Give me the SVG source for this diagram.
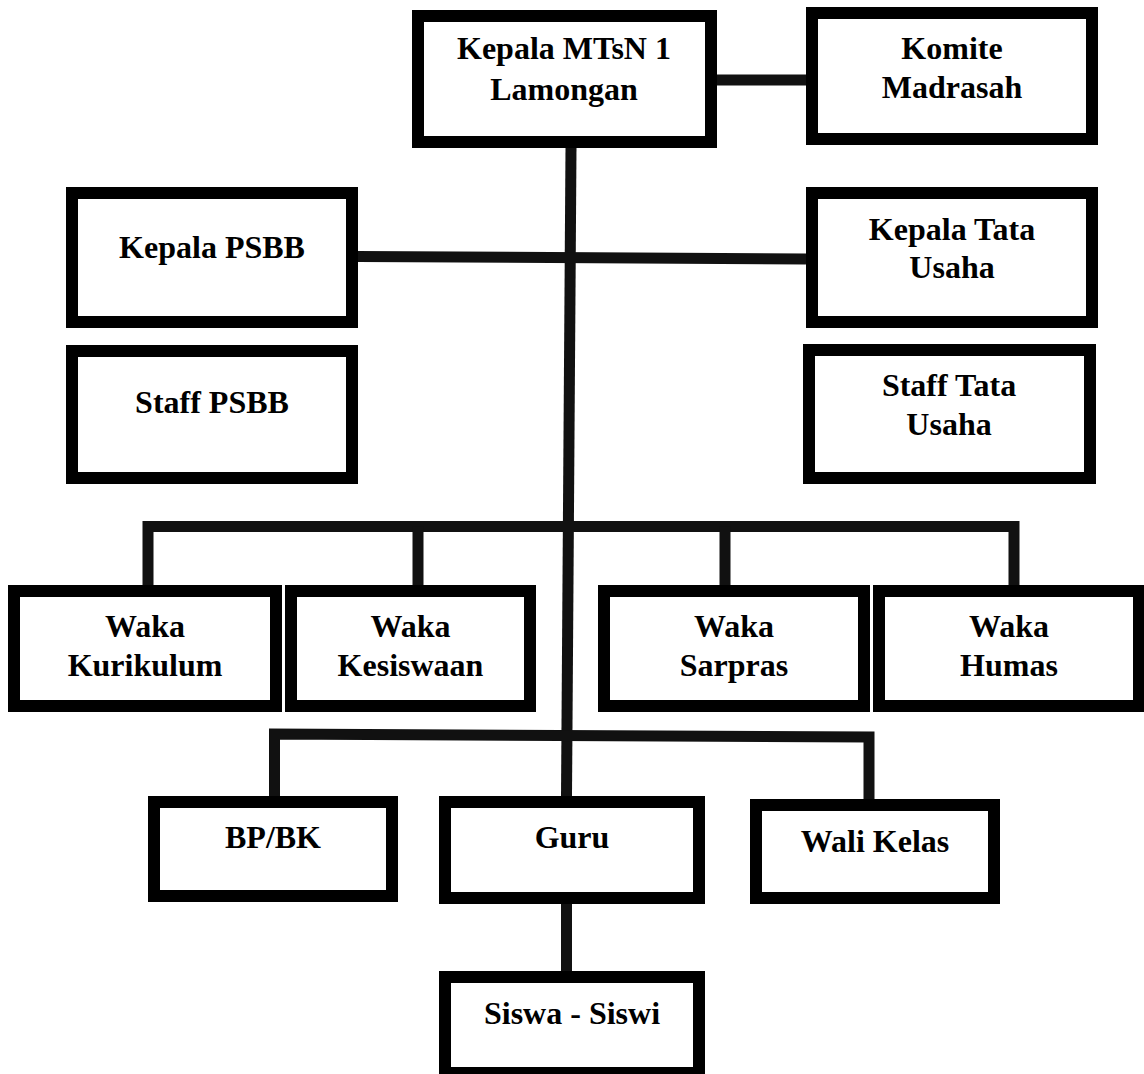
<svg xmlns="http://www.w3.org/2000/svg" width="1144" height="1074" viewBox="0 0 1144 1074">
<style>
.box{fill:#fff;stroke:#000;stroke-width:12}
.lbl{font-family:"Liberation Serif","Times New Roman",serif;font-weight:bold;font-size:32px;fill:#000;text-anchor:middle}
.con{fill:none;stroke:#111;stroke-width:11;stroke-linejoin:miter}
</style>
<rect x="0" y="0" width="1144" height="1074" fill="#fff"/>
<g id="connectors">
<line class="con" x1="717" y1="80" x2="806" y2="80"/>
<line class="con" x1="571" y1="148" x2="566.5" y2="796"/>
<line class="con" x1="358" y1="256.5" x2="806" y2="259"/>
<path class="con" d="M148 585 V526.5 H1014 V585"/>
<line class="con" x1="418" y1="526.5" x2="418" y2="585"/>
<line class="con" x1="725" y1="526.5" x2="725" y2="585"/>
<path class="con" d="M274.5 796 V734 L869 737 V799"/>
<line class="con" x1="566.5" y1="904" x2="566.5" y2="971"/>
</g>
<g id="kepala-mtsn"><rect class="box" x="418" y="16" width="293" height="126"/><text class="lbl" x="564" y="59">Kepala MTsN 1</text><text class="lbl" x="564" y="100">Lamongan</text></g>
<g id="komite"><rect class="box" x="812" y="13" width="280" height="126"/><text class="lbl" x="952" y="59">Komite</text><text class="lbl" x="952" y="98">Madrasah</text></g>
<g id="kepala-psbb"><rect class="box" x="72" y="193" width="280" height="129"/><text class="lbl" x="212" y="258">Kepala PSBB</text></g>
<g id="kepala-tu"><rect class="box" x="812" y="193" width="280" height="129"/><text class="lbl" x="952" y="240">Kepala Tata</text><text class="lbl" x="952" y="278">Usaha</text></g>
<g id="staff-psbb"><rect class="box" x="72" y="351" width="280" height="127"/><text class="lbl" x="212" y="413">Staff PSBB</text></g>
<g id="staff-tu"><rect class="box" x="809" y="350" width="281" height="128"/><text class="lbl" x="949" y="396">Staff Tata</text><text class="lbl" x="949" y="435">Usaha</text></g>
<g id="waka-kurikulum"><rect class="box" x="14" y="591" width="262" height="115"/><text class="lbl" x="145" y="637">Waka</text><text class="lbl" x="145" y="676">Kurikulum</text></g>
<g id="waka-kesiswaan"><rect class="box" x="291" y="591" width="239" height="115"/><text class="lbl" x="410.5" y="637">Waka</text><text class="lbl" x="410.5" y="676">Kesiswaan</text></g>
<g id="waka-sarpras"><rect class="box" x="604" y="591" width="260" height="115"/><text class="lbl" x="734" y="637">Waka</text><text class="lbl" x="734" y="676">Sarpras</text></g>
<g id="waka-humas"><rect class="box" x="879" y="591" width="260" height="115"/><text class="lbl" x="1009" y="637">Waka</text><text class="lbl" x="1009" y="676">Humas</text></g>
<g id="bpbk"><rect class="box" x="154" y="802" width="238" height="94"/><text class="lbl" x="273" y="848">BP/BK</text></g>
<g id="guru"><rect class="box" x="445" y="802" width="254" height="96"/><text class="lbl" x="572" y="848">Guru</text></g>
<g id="wali-kelas"><rect class="box" x="756" y="805" width="238" height="93"/><text class="lbl" x="875" y="852">Wali Kelas</text></g>
<g id="siswa"><rect class="box" x="445" y="977" width="254" height="96"/><text class="lbl" x="572" y="1024">Siswa - Siswi</text></g>
</svg>
